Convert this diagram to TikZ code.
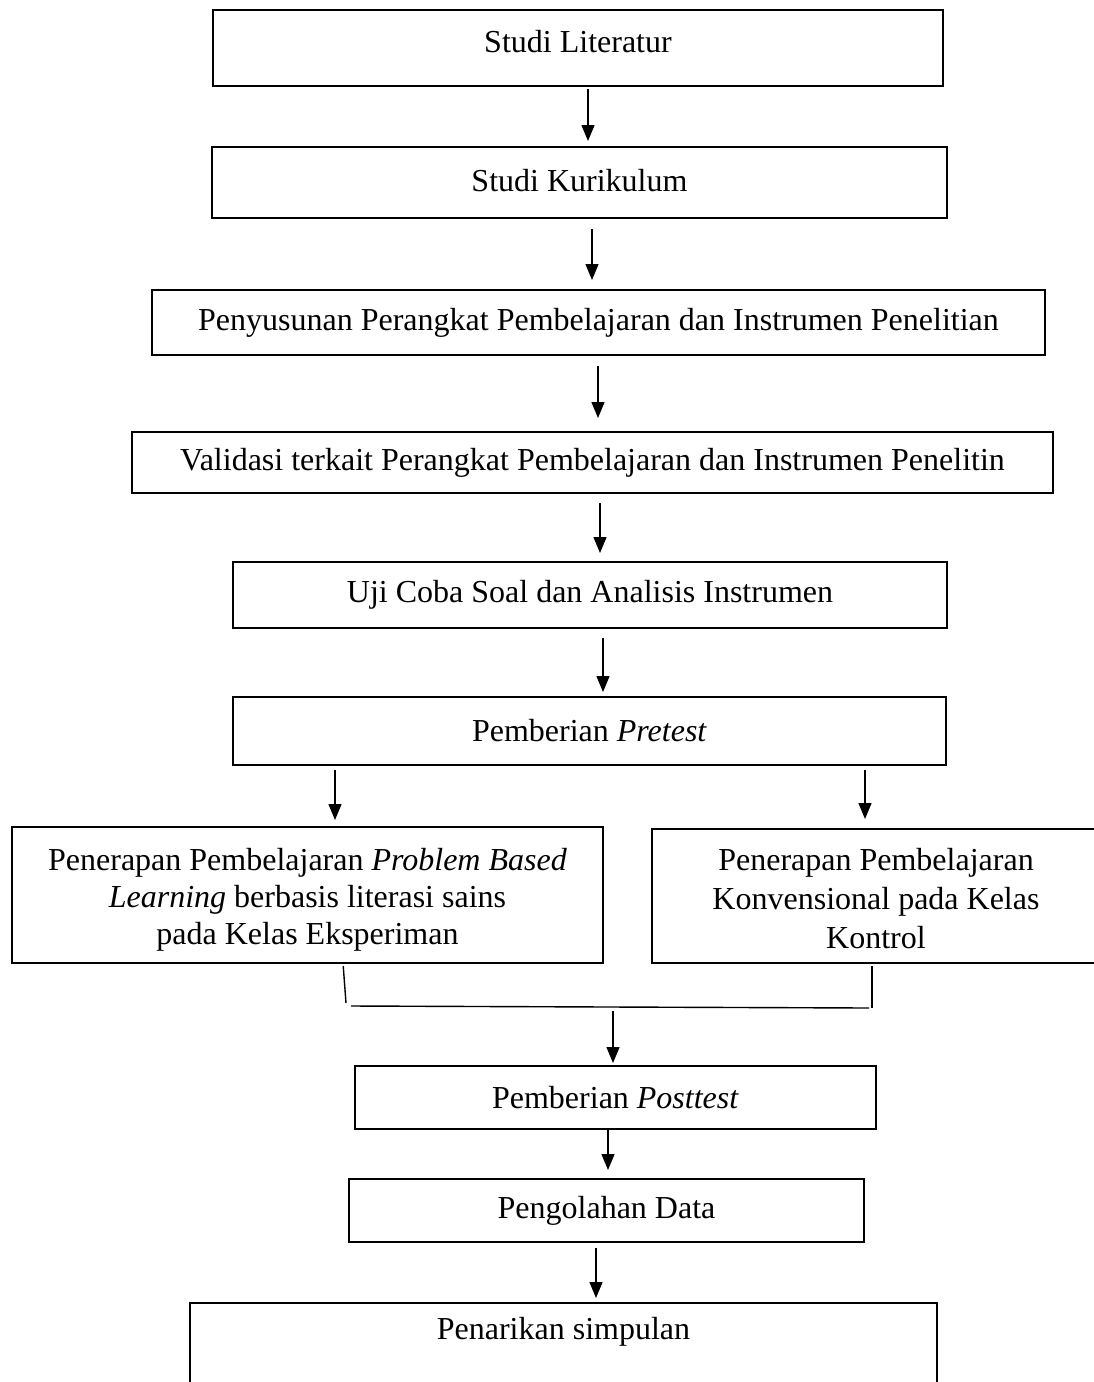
\documentclass[tikz,border=0pt]{standalone}
\usepackage{fontspec}
\setmainfont{Liberation Serif}
\usetikzlibrary{arrows.meta}
\begin{document}
\begin{tikzpicture}[x=1pt,y=-1pt,
  box/.style={draw=black, line width=2.6pt, inner sep=0pt, outer sep=0pt, align=center,
    font=\fontsize{32}{39}\selectfont},
  txt/.style={inner sep=0pt, align=center, font=\fontsize{32}{39}\selectfont},
  arr/.style={line width=1.4pt, -{Triangle[length=16pt,width=13pt]}},
  link/.style={line width=1.4pt}]
\useasboundingbox (0,0) rectangle (1094,1382);
\fill[white] (0,0) rectangle (1094,1382);
\clip (0,0) rectangle (1094,1382);

\node[box, minimum width=730, minimum height=76,
  label={[txt,yshift=6pt]center:Studi Literatur}] (b1) at (578,48) {};
\node[box, minimum width=735, minimum height=71,
  label={[txt,yshift=2pt]center:Studi Kurikulum}] (b2) at (579.5,182.5) {};
\node[box, minimum width=893, minimum height=65] (b3) at (598.5,322.5)
  {Penyusunan Perangkat Pembelajaran dan Instrumen Penelitian};
\node[box, minimum width=921, minimum height=61] (b4) at (592.5,462.5)
  {Validasi terkait Perangkat Pembelajaran dan Instrumen Penelitin};
\node[box, minimum width=714, minimum height=66] (b5) at (590,595)
  {Uji Coba Soal dan Analisis Instrumen};
\node[box, minimum width=713, minimum height=68] (b6) at (589.5,731)
  {Pemberian \textit{Pretest}};
\node[box, minimum width=591, minimum height=136,
  label={[txt,yshift=-5pt,font=\fontsize{32}{37}\selectfont]center:{Penerapan Pembelajaran \textit{Problem Based}\\\textit{Learning} berbasis literasi sains\\pada Kelas Eksperiman}}] (b7L) at (307.5,895) {};
\node[box, minimum width=448, minimum height=134,
  label={[txt,yshift=-3pt]center:{Penerapan Pembelajaran\\Konvensional pada Kelas\\Kontrol}}] (b7R) at (876,896) {};
\node[box, minimum width=521, minimum height=63] (b8) at (615.5,1097.5)
  {Pemberian \textit{Posttest}};
\node[box, minimum width=515, minimum height=63] (b9) at (606.5,1210.5)
  {Pengolahan Data};
\node[box, minimum width=747, minimum height=117,
  label={[txt,yshift=30pt]center:Penarikan simpulan}] (b10) at (563.5,1361.5) {};

% straight arrows
\draw[arr, shorten <=3pt, shorten >=6pt] (b1.south -| 588,0) -- (b2.north -| 588,0);
\draw[arr, shorten <=11pt, shorten >=10pt] (b2.south -| 592,0) -- (b3.north -| 592,0);
\draw[arr, shorten <=11pt, shorten >=14pt] (b3.south -| 598,0) -- (b4.north -| 598,0);
\draw[arr, shorten <=10pt, shorten >=9pt] (b4.south -| 600,0) -- (b5.north -| 600,0);
\draw[arr, shorten <=10pt, shorten >=5pt] (b5.south -| 603,0) -- (b6.north -| 603,0);
\draw[arr, shorten <=5pt, shorten >=7pt] (b6.south -| 335,0) -- (b7L.north -| 335,0);
\draw[arr, shorten <=5pt, shorten >=10pt] (b6.south -| 865,0) -- (b7R.north -| 865,0);

% merge
\coordinate (mLt) at (343,963);
\coordinate (mL) at (346,1003);
\coordinate (mRt) at (872,963);
\coordinate (mR) at (872,1008);
\coordinate (hL) at (351,1006);
\coordinate (hR) at (869,1008);
\coordinate (mC) at (613,1007);
\draw[link, shorten <=3pt] (mLt) -- (mL);
\draw[link, shorten <=3pt] (mRt) -- (mR);
\draw[link] (hL) -- (hR);
\draw[arr, shorten <=4pt, shorten >=3pt] (mC) -- (b8.north -| mC);

\draw[arr, shorten <=1pt, shorten >=9pt] (b8.south -| 608,0) -- (b9.north -| 608,0);
\draw[arr, shorten <=6pt, shorten >=5pt] (b9.south -| 596,0) -- (b10.north -| 596,0);
\end{tikzpicture}
\end{document}
